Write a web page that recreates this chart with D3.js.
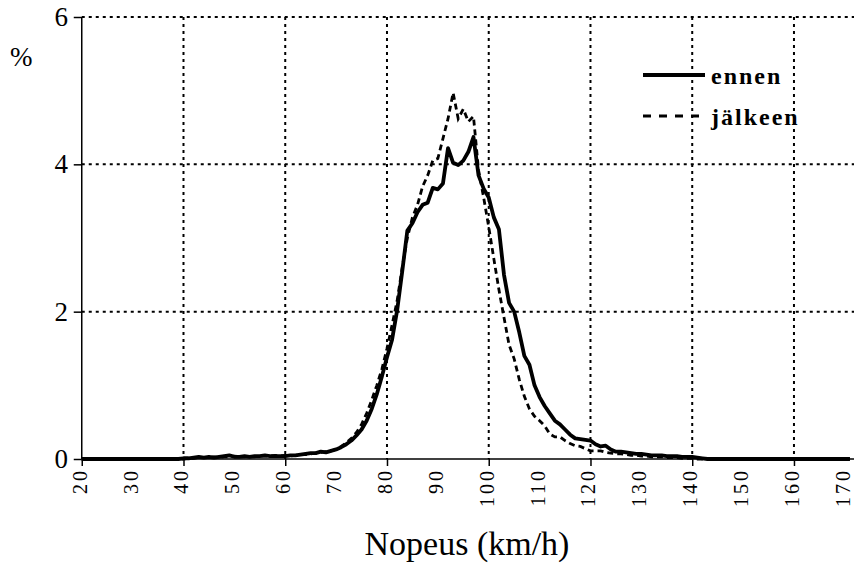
<!DOCTYPE html>
<html lang="fi">
<head>
  <meta charset="UTF-8">
  <title>Nopeusjakauma ennen ja jälkeen</title>
  <script src="https://d3js.org/d3.v7.min.js"></script>
  <style>
    body { margin: 0; background: #fff; }
    svg text { font-family: "Liberation Serif", "Times New Roman", serif; fill: #000; }
    .grid line { stroke: #000; stroke-width: 2; stroke-dasharray: 3,4; }
    .axis path, .axis line { stroke: #000; stroke-width: 1.5; }
    .ylab { font-size: 27px; }
    .xlab { font-size: 20px; letter-spacing: 3px; }
    .legend text { font-size: 24px; font-weight: bold; letter-spacing: 2px; }
  </style>
</head>
<body>
  <div id="chart"></div>
  <script>
    // speed categories 20..171 km/h, one value per km/h
    const speedStart = 20;
    const ennen = [
      0,0,0,0,0,0,0,0,0,0,
      0,0,0,0,0,0,0,0,0,0,
      0.01,0.01,0.02,0.03,0.02,0.03,0.02,0.03,0.04,0.05,
      0.03,0.03,0.04,0.03,0.04,0.04,0.05,0.04,0.04,0.04,
      0.04,0.05,0.05,0.06,0.07,0.08,0.08,0.10,0.09,0.11,
      0.13,0.16,0.20,0.25,0.32,0.40,0.52,0.68,0.88,1.12,
      1.38,1.62,2.02,2.55,3.10,3.20,3.35,3.45,3.48,3.68,
      3.66,3.74,4.22,4.02,3.99,4.05,4.17,4.37,3.85,3.67,
      3.55,3.28,3.12,2.50,2.12,2.00,1.72,1.40,1.28,1.00,
      0.84,0.72,0.62,0.52,0.47,0.40,0.33,0.28,0.27,0.26,
      0.25,0.20,0.17,0.18,0.13,0.10,0.10,0.09,0.08,0.07,
      0.07,0.06,0.05,0.05,0.05,0.04,0.04,0.04,0.03,0.03,
      0.03,0.02,0.01,0,0,0,0,0,0,0,
      0,0,0,0,0,0,0,0,0,0,
      0,0,0,0,0,0,0,0,0,0,
      0,0
    ];
    const jalkeen = [
      0,0,0,0,0,0,0,0,0,0,
      0,0,0,0,0,0,0,0,0,0,
      0,0.01,0.01,0.02,0.02,0.02,0.03,0.02,0.03,0.03,
      0.04,0.03,0.03,0.04,0.03,0.04,0.04,0.04,0.05,0.04,
      0.05,0.04,0.05,0.06,0.06,0.07,0.08,0.09,0.10,0.11,
      0.13,0.17,0.22,0.28,0.36,0.47,0.62,0.80,1.00,1.22,
      1.50,1.82,2.15,2.60,3.00,3.28,3.45,3.70,3.85,4.05,
      4.08,4.35,4.62,4.97,4.62,4.75,4.58,4.65,3.92,3.55,
      3.15,2.72,2.30,1.92,1.55,1.36,1.08,0.85,0.68,0.58,
      0.52,0.45,0.34,0.30,0.30,0.25,0.21,0.18,0.17,0.14,
      0.11,0.11,0.11,0.09,0.08,0.07,0.07,0.06,0.05,0.05,
      0.04,0.04,0.03,0.03,0.03,0.02,0.02,0.02,0.01,0.01,
      0.01,0,0,0,0,0,0,0,0,0,
      0,0,0,0,0,0,0,0,0,0,
      0,0,0,0,0,0,0,0,0,0,
      0,0
    ];
    const xTickLabels = [20,30,40,50,60,70,80,90,100,110,120,130,140,150,160,170];
    const xGrid = [40,60,80,100,120,140,160];
    const yTicks = [0,2,4,6];
    const seriesNames = ["ennen", "jälkeen"];

    const width = 854, height = 565;
    const svg = d3.select("#chart").append("svg")
      .attr("width", width)
      .attr("height", height);

    const x = d3.scaleLinear().domain([20, 171.8]).range([81.75, 854]);
    const y = d3.scaleLinear().domain([0, 6]).range([459, 17]);

    // dotted grid
    const grid = svg.append("g").attr("class", "grid");
    grid.selectAll(".gy").data(yTicks.filter(d => d > 0)).enter()
      .append("line")
      .attr("x1", x(20)).attr("x2", width)
      .attr("y1", d => y(d)).attr("y2", d => y(d));
    grid.selectAll(".gx").data(xGrid).enter()
      .append("line")
      .attr("x1", d => x(d)).attr("x2", d => x(d))
      .attr("y1", y(6)).attr("y2", y(0));

    // y axis
    svg.append("g")
      .attr("class", "axis")
      .attr("transform", `translate(${x(20)},0)`)
      .call(d3.axisLeft(y).tickValues(yTicks).tickSize(8).tickFormat(""))
      .call(g => g.select(".domain").attr("d", `M0,${y(6)}V${y(0)}`));
    svg.selectAll(".ylab").data(yTicks).enter()
      .append("text")
      .attr("class", "ylab")
      .attr("x", 68)
      .attr("y", d => y(d) + 9)
      .attr("text-anchor", "end")
      .text(d => d);
    svg.append("text")
      .attr("class", "ylab")
      .attr("x", 10)
      .attr("y", 66)
      .text("%");

    // x axis
    svg.append("g")
      .attr("class", "axis")
      .attr("transform", `translate(0,${y(0)})`)
      .call(d3.axisBottom(x).tickValues([20].concat(xGrid)).tickSize(7).tickFormat(""))
      .call(g => g.select(".domain").attr("d", `M${x(20)},0H${width}`));
    svg.selectAll(".xlab").data(xTickLabels).enter()
      .append("text")
      .attr("class", "xlab")
      .attr("transform", d => `translate(${x(d) + 5},468) rotate(-90)`)
      .attr("text-anchor", "end")
      .text(d => d);
    svg.append("text")
      .attr("x", 467)
      .attr("y", 555)
      .attr("text-anchor", "middle")
      .style("font-size", "34px")
      .text("Nopeus (km/h)");

    // series
    const line = d3.line()
      .x((d, i) => x(speedStart + i))
      .y(d => y(d));

    svg.append("path")
      .datum(jalkeen)
      .attr("d", line)
      .attr("fill", "none")
      .attr("stroke", "#000")
      .attr("stroke-width", 2.8)
      .attr("stroke-dasharray", "6,4");

    svg.append("path")
      .datum(ennen)
      .attr("d", line)
      .attr("fill", "none")
      .attr("stroke", "#000")
      .attr("stroke-width", 3.8)
      .attr("stroke-linejoin", "round");

    // legend
    const legend = svg.append("g").attr("class", "legend");
    legend.append("line")
      .attr("x1", 643).attr("x2", 705).attr("y1", 75).attr("y2", 75)
      .attr("stroke", "#000").attr("stroke-width", 4);
    legend.append("line")
      .attr("x1", 643).attr("x2", 705).attr("y1", 116).attr("y2", 116)
      .attr("stroke", "#000").attr("stroke-width", 3)
      .attr("stroke-dasharray", "8,8");
    legend.selectAll("text").data(seriesNames).enter()
      .append("text")
      .attr("x", 711)
      .attr("y", (d, i) => 84 + i * 41)
      .text(d => d);
  </script>
</body>
</html>
